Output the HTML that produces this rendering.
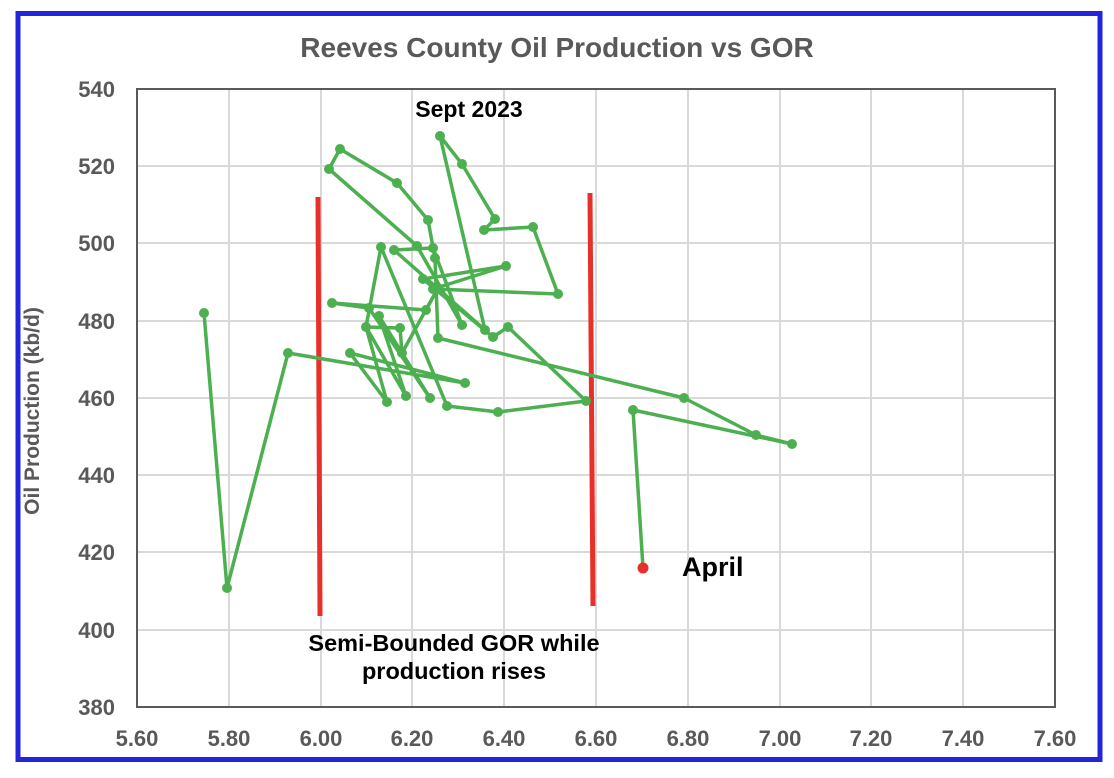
<!DOCTYPE html>
<html><head><style>
body{margin:0;background:#fff;}
svg{display:block;font-family:"Liberation Sans",Arial,sans-serif;}
</style></head><body>
<svg width="1114" height="778" viewBox="0 0 1114 778">
<rect x="18" y="13.5" width="1082" height="746" fill="#fff" stroke="#2424dc" stroke-width="5"/>
<text x="557" y="57" text-anchor="middle" font-size="28" font-weight="bold" fill="#595959">Reeves County Oil Production vs GOR</text>
<g stroke="#d9d9d9" stroke-width="2">
<line x1="137" y1="166" x2="1055" y2="166"/>
<line x1="137" y1="243" x2="1055" y2="243"/><line x1="137" y1="321" x2="1055" y2="321"/>
<line x1="137" y1="398" x2="1055" y2="398"/><line x1="137" y1="475" x2="1055" y2="475"/>
<line x1="137" y1="552" x2="1055" y2="552"/><line x1="137" y1="630" x2="1055" y2="630"/>
<line x1="229" y1="89" x2="229" y2="707"/>
<line x1="321" y1="89" x2="321" y2="707"/><line x1="412" y1="89" x2="412" y2="707"/>
<line x1="504" y1="89" x2="504" y2="707"/><line x1="596" y1="89" x2="596" y2="707"/>
<line x1="688" y1="89" x2="688" y2="707"/><line x1="780" y1="89" x2="780" y2="707"/>
<line x1="871" y1="89" x2="871" y2="707"/><line x1="963" y1="89" x2="963" y2="707"/>
</g>
<rect x="137" y="89" width="918" height="618" fill="none" stroke="#595959" stroke-width="2"/>
<g font-size="22" font-weight="bold" fill="#595959" text-anchor="end">
<text x="115" y="97">540</text><text x="115" y="174">520</text><text x="115" y="251">500</text>
<text x="115" y="329">480</text><text x="115" y="406">460</text><text x="115" y="483">440</text>
<text x="115" y="560">420</text><text x="115" y="638">400</text><text x="115" y="715">380</text>
</g>
<g font-size="22" font-weight="bold" fill="#595959" text-anchor="middle">
<text x="137" y="746">5.60</text><text x="229" y="746">5.80</text><text x="321" y="746">6.00</text>
<text x="412" y="746">6.20</text><text x="504" y="746">6.40</text><text x="596" y="746">6.60</text>
<text x="688" y="746">6.80</text><text x="780" y="746">7.00</text><text x="871" y="746">7.20</text>
<text x="963" y="746">7.40</text><text x="1055" y="746">7.60</text>
</g>
<text transform="translate(39,411) rotate(-90)" text-anchor="middle" font-size="21" font-weight="bold" fill="#595959">Oil Production (kb/d)</text>
<line x1="318" y1="197" x2="320" y2="616" stroke="#e8302a" stroke-width="5"/>
<line x1="590" y1="193" x2="593" y2="606" stroke="#e8302a" stroke-width="5"/>
<polyline fill="none" stroke="#4caf50" stroke-width="3.5" stroke-linejoin="round" points="204,313 227,588 288,353 465,383 350,353 387,402 366,327 406,396 379,316 430,398 369,308 332,303 426,310 438,288 402,353 400,328 366,327 381,247 447,406 498,412 586,401 508,327 493,337 423,279 506,266 433,289 558,294 533,227 484,230 495,219 462,164 440,136 485,330 394,250 433,248 462,325 417,246 329,169 340,149 397,183 428,220 435,258 438,338 684,398 756,435 792,444 633,410 643,568"/>
<g fill="#4caf50">
<circle cx="204" cy="313" r="5"/><circle cx="227" cy="588" r="5"/><circle cx="288" cy="353" r="5"/><circle cx="465" cy="383" r="5"/><circle cx="350" cy="353" r="5"/><circle cx="387" cy="402" r="5"/><circle cx="366" cy="327" r="5"/><circle cx="406" cy="396" r="5"/><circle cx="379" cy="316" r="5"/><circle cx="430" cy="398" r="5"/><circle cx="369" cy="308" r="5"/><circle cx="332" cy="303" r="5"/><circle cx="426" cy="310" r="5"/><circle cx="438" cy="288" r="5"/><circle cx="402" cy="353" r="5"/><circle cx="400" cy="328" r="5"/><circle cx="381" cy="247" r="5"/><circle cx="447" cy="406" r="5"/><circle cx="498" cy="412" r="5"/><circle cx="586" cy="401" r="5"/><circle cx="508" cy="327" r="5"/><circle cx="493" cy="337" r="5"/><circle cx="423" cy="279" r="5"/><circle cx="506" cy="266" r="5"/><circle cx="433" cy="289" r="5"/><circle cx="558" cy="294" r="5"/><circle cx="533" cy="227" r="5"/><circle cx="484" cy="230" r="5"/><circle cx="495" cy="219" r="5"/><circle cx="462" cy="164" r="5"/><circle cx="440" cy="136" r="5"/><circle cx="485" cy="330" r="5"/><circle cx="394" cy="250" r="5"/><circle cx="433" cy="248" r="5"/><circle cx="462" cy="325" r="5"/><circle cx="417" cy="246" r="5"/><circle cx="329" cy="169" r="5"/><circle cx="340" cy="149" r="5"/><circle cx="397" cy="183" r="5"/><circle cx="428" cy="220" r="5"/><circle cx="435" cy="258" r="5"/><circle cx="438" cy="338" r="5"/><circle cx="684" cy="398" r="5"/><circle cx="756" cy="435" r="5"/><circle cx="792" cy="444" r="5"/><circle cx="633" cy="410" r="5"/>
</g>
<circle cx="643" cy="568" r="5.5" fill="#e8302a"/>
<text x="469" y="117" text-anchor="middle" font-size="23" font-weight="bold" fill="#000">Sept 2023</text>
<text x="682" y="576" font-size="27" font-weight="bold" fill="#000">April</text>
<text x="454" y="651" text-anchor="middle" font-size="23.5" font-weight="bold" fill="#000">Semi-Bounded GOR while</text>
<text x="454" y="679" text-anchor="middle" font-size="23.5" font-weight="bold" fill="#000">production rises</text>
</svg>
</body></html>
